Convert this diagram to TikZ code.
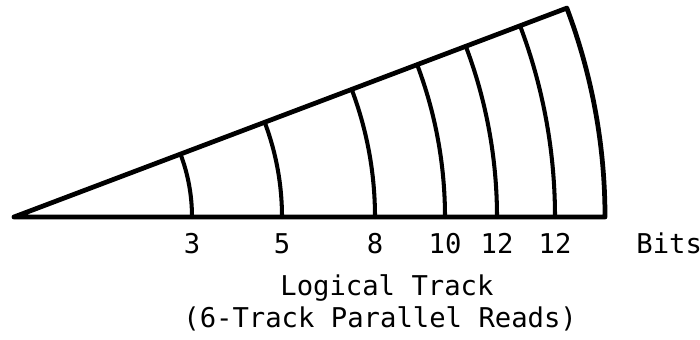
\documentclass[tikz,border=0pt]{standalone}
\usepackage{fontspec}
\setmonofont{DejaVu Sans Mono}
\usetikzlibrary{positioning,calc}

\begin{document}
\begin{tikzpicture}[
            edge/.style={line width=2.7pt, line join=round, line cap=round},
            sep/.style={line width=2.3pt, line cap=round},
            lbl/.style={font=\ttfamily\fontsize{15.5}{18}\selectfont, inner sep=0pt}
        ]
            \useasboundingbox (-0.28,-2.44) rectangle (13.72,4.34);
            % sector outline, apex at the origin
            \coordinate (apex) at (0,0);
            \coordinate (rim) at (0:11.82);
            \coordinate (tip) at (20.7:11.82);
            \draw[edge] (apex) -- (rim) arc[start angle=0, end angle=20.7, radius=11.82] -- (apex);

            % logical track boundaries and their bit counts
            \foreach \r/\b [count=\i] in {3.56/3, 5.36/5, 7.22/8, 8.62/10, 9.66/12, 10.82/12} {
                \draw[sep] (0:\r) arc[start angle=0, end angle=20.7, radius=\r];
                \node[lbl, anchor=base] (bits\i) at (\r,-0.72) {\b};
            }
            \node[lbl, anchor=base west] (unit) at (12.44,-0.72) {Bits};

            \node[lbl, anchor=base west] (title) at (5.32,-1.56) {Logical Track};
            \node[lbl, anchor=base west] (subtitle) at (3.38,-2.2) {(6-Track Parallel Reads)};
        \end{tikzpicture}
\end{document}
